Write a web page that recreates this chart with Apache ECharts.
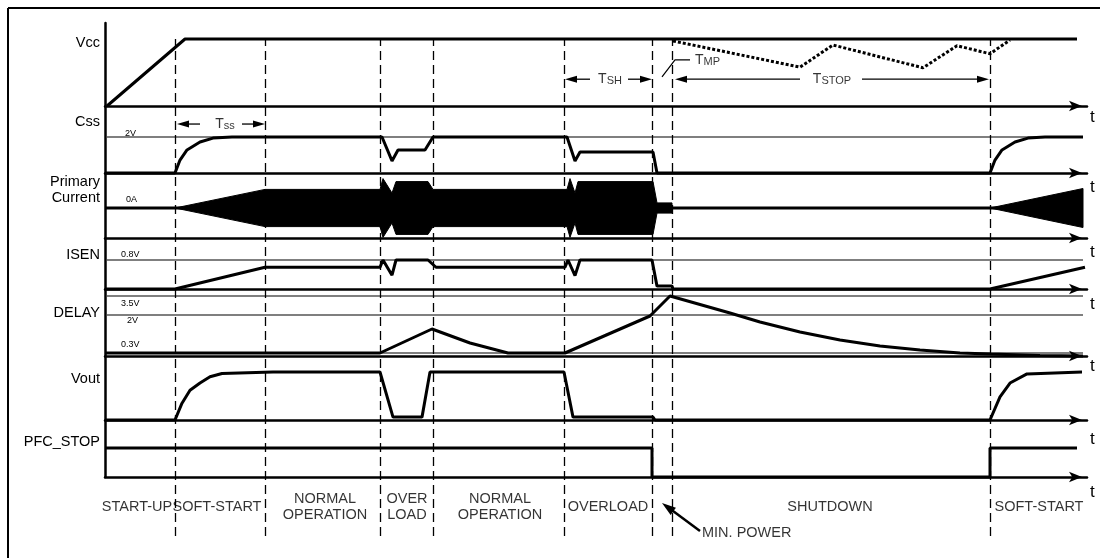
<!DOCTYPE html>
<html>
<head>
<meta charset="utf-8">
<script src="https://cdn.jsdelivr.net/npm/echarts@6/dist/echarts.min.js"></script>
<style>
  html, body { margin: 0; padding: 0; background: #fff; }
  #chart { width: 1100px; height: 558px; }
</style>
</head>
<body>
<div id="chart"></div>
<script>
// time runs from 0 (left axis) to T_MAX (arrow tips), same scale for every lane
const T_MAX = 982;
const eventTimes = [70, 160, 275, 328, 459, 547, 567, 885];

// ---- signal values, [time, level] ----
// Vcc, normalised (1 = supply up)
const vcc = [[2, 0], [80, 1], [972, 1]];
const vccDroop = [[568, 0.97], [695, 0.58], [728, 0.91], [818, 0.57], [852, 0.9], [885, 0.78], [905, 0.985]];
// Css in volts
const css = [[0, 0], [70, 0], [75, 0.72], [82, 1.28], [95, 1.72], [108, 1.94], [127, 2], [277, 2], [287, 0.67],
  [293, 1.28], [320, 1.28], [328, 2], [462, 2], [470, 0.67], [475, 1.17], [548, 1.17], [552, 0], [885, 0],
  [890, 0.72], [897, 1.28], [910, 1.72], [923, 1.94], [940, 2], [978, 2]];
// primary current envelope, half amplitude (the burst is drawn +/-)
const currentBursts = [
  [[70, 0], [160, 0.62], [275, 0.62], [278, 0.98], [287, 0.5], [291, 0.88], [323, 0.88], [328, 0.62], [462, 0.62],
   [465, 0.98], [470, 0.5], [473, 0.88], [548, 0.88], [552, 0.17], [567, 0.17], [567, 0]],
  [[885, 0], [978, 0.65]]
];
const currentZero = [[0, 0], [978, 0]];
// ISEN in volts
const isen = [[0, 0], [70, 0], [160, 0.6], [275, 0.6], [278, 0.8], [287, 0.38], [291, 0.8], [323, 0.8], [331, 0.6],
  [460, 0.6], [463, 0.8], [470, 0.37], [475, 0.8], [547, 0.8], [552, 0.08], [567, 0.08], [568, 0], [885, 0], [980, 0.6]];
// DELAY, schematic level (0.3V = 3, 2V = 41, 3.5V = 60)
const delay = [[0, 3], [275, 3], [327, 27], [365, 13], [403, 3], [460, 3], [545, 40], [565, 60], [625, 43],
  [655, 34], [695, 24], [735, 16], [775, 10], [815, 6], [855, 3], [885, 2], [935, 0.5], [978, 0]];
// Vout normalised
const vout = [[0, 0], [70, 0], [77, 0.35], [85, 0.62], [95, 0.77], [105, 0.9], [117, 0.97], [168, 1], [275, 1],
  [288, 0.06], [317, 0.06], [325, 1], [459, 1], [468, 0.06], [548, 0.06], [550, 0], [885, 0], [895, 0.48],
  [905, 0.77], [922, 0.96], [977, 1]];
// PFC_STOP logic
const pfcStop = [[0, 1], [547, 1], [547, 0], [885, 0], [885, 1], [972, 1]];

// reference levels
const cssLevels = [2];
const isenLevels = [0.8];
const delayLevels = [60, 41, 3];

// timing spans, [from, to] tip to tip
const tssArrows = [[95, 2.72, 72, 2.72], [137, 2.72, 160, 2.72]];
const timeArrows = [[485, 0.4, 460, 0.4], [523, 0.4, 547, 0.4], [695, 0.4, 570, 0.4], [757, 0.4, 884, 0.4]];
const tmpLeader = [[557, 0.433], [570, 0.687], [585, 0.687]];
const minPowerArrow = [[595, 14, 557, 42]];

// texts
const signalNames = ['Vcc', 'Css', 'Primary\nCurrent', 'ISEN', 'DELAY', 'Vout', 'PFC_STOP'];
const levelNames = ['2V', '0A', '0.8V', '3.5V', '2V', '0.3V'];
const phaseNames = ['START-UP', 'SOFT-START', 'NORMAL\nOPERATION', 'OVER\nLOAD', 'NORMAL\nOPERATION', 'OVERLOAD', 'SHUTDOWN', 'SOFT-START'];
const phaseCenters = [32, 112, 220, 302, 395, 503, 725, 934];

// ---- layout ----
const FONT = '"Liberation Sans", Arial, Helvetica, sans-serif';
const LEFT = 105, RIGHT = 13;
const lanes = [
  { top: 39, height: 67, min: 0, max: 1, tPad: 3 },      // Vcc
  { top: 110, height: 63, min: 0, max: 3.5, tPad: 6 },   // Css
  { top: 178, height: 60, min: -1, max: 1, tPad: 6 },    // Primary current
  { top: 260, height: 29, min: 0, max: 0.8, tPad: 7 },   // ISEN
  { top: 296, height: 60, min: 0, max: 60, tPad: 2 },    // DELAY
  { top: 372, height: 48, min: 0, max: 1, tPad: 11 },    // Vout
  { top: 448, height: 29, min: 0, max: 1, tPad: 7 }      // PFC_STOP
];
const extraGrids = [
  { top: 39, height: 497, min: 0, max: 1 },   // 7: dashed phase markers
  { top: 23, height: 454, min: 0, max: 1 },   // 8: left vertical axis
  { top: 480, height: 65, min: 0, max: 65 }   // 9: phase names / notes
];
const allGrids = lanes.concat(extraGrids);

const grid = allGrids.map(g => ({ left: LEFT, right: RIGHT, top: g.top, height: g.height }));
const xAxis = allGrids.map((g, i) => {
  const isLane = i < lanes.length;
  return {
    gridIndex: i, type: 'value', min: 0, max: T_MAX, show: isLane,
    axisLine: { show: true, onZero: false, symbol: ['none', 'arrow'], symbolSize: [8, 13], symbolOffset: [0, -5],
      lineStyle: { color: '#000', width: 2.5 } },
    axisTick: { show: false }, axisLabel: { show: false }, splitLine: { show: false },
    name: isLane ? 't' : '', nameLocation: 'end', nameGap: 3,
    nameTextStyle: { color: '#000', fontSize: 17, fontFamily: FONT, verticalAlign: 'top', padding: [g.tPad || 0, 0, 0, 0] }
  };
});
const yAxis = allGrids.map((g, i) => ({
  gridIndex: i, type: 'value', min: g.min, max: g.max, show: i === 8,
  axisLine: { show: true, onZero: false, lineStyle: { color: '#000', width: 2.5 } },
  axisTick: { show: false }, axisLabel: { show: false }, splitLine: { show: false }
}));

function wave(idx, data, width, lineType) {
  return {
    type: 'line', xAxisIndex: idx, yAxisIndex: idx, data: data, symbol: 'none', clip: false, silent: true,
    lineStyle: { color: '#000', width: width, type: lineType || 'solid' }, z: 3
  };
}
function levelLines(idx, levels) {
  return levels.map(l => wave(idx, [[2, l], [978, l]], 1.2));
}
// straight arrows, shaft + filled head, tip at the second point
function arrows(idx, segs, width, head) {
  return {
    type: 'custom', xAxisIndex: idx, yAxisIndex: idx, silent: true, clip: false, z: 4,
    data: segs, encode: { x: [0, 2], y: [1, 3] },
    renderItem: function (params, api) {
      const s = segs[params.dataIndex];
      const a = api.coord([s[0], s[1]]), b = api.coord([s[2], s[3]]);
      const dx = b[0] - a[0], dy = b[1] - a[1], len = Math.sqrt(dx * dx + dy * dy);
      const ux = dx / len, uy = dy / len, hw = head[0] / 2, hl = head[1];
      const bx = b[0] - ux * hl, by = b[1] - uy * hl;
      return {
        type: 'group', children: [
          { type: 'line', shape: { x1: a[0], y1: a[1], x2: bx + ux * 2, y2: by + uy * 2 }, style: { stroke: '#000', lineWidth: width } },
          { type: 'polygon', shape: { points: [[b[0], b[1]], [bx - uy * hw, by + ux * hw], [bx + uy * hw, by - ux * hw]] }, style: { fill: '#000' } }
        ]
      };
    }
  };
}
function notes(idx, items, rich) {
  return {
    type: 'scatter', xAxisIndex: idx, yAxisIndex: idx, symbolSize: 0, silent: true, z: 5,
    data: items.map(it => ({ name: it.text, value: it.at, label: { position: it.pos || 'inside', distance: 0 } })),
    label: { show: true, formatter: p => p.name, color: '#000', fontSize: 14.5, fontFamily: FONT, lineHeight: 16, rich: rich || {} }
  };
}

const richT = {
  t: { fontSize: 14, fontFamily: FONT, color: '#000', lineHeight: 14, verticalAlign: 'bottom' },
  s: { fontSize: 11, fontFamily: FONT, color: '#000', lineHeight: 11, verticalAlign: 'bottom' }
};

const series = [
  // primary current bursts
  {
    type: 'custom', xAxisIndex: 2, yAxisIndex: 2, silent: true, clip: false, z: 2,
    data: currentBursts.map(b => [b[0][0], 0]),
    encode: { x: 0, y: 1 },
    renderItem: function (params, api) {
      const b = currentBursts[params.dataIndex];
      const top = b.map(p => api.coord([p[0], p[1]]));
      const bottom = b.slice().reverse().map(p => api.coord([p[0], -p[1]]));
      return { type: 'polygon', shape: { points: top.concat(bottom) }, style: { fill: '#000', stroke: '#000', lineWidth: 1 } };
    }
  },
  wave(0, vcc, 3),
  wave(0, vccDroop, 3, [3, 2]),
  wave(1, css, 3),
  wave(2, currentZero, 3),
  wave(3, isen, 3),
  wave(4, delay, 3),
  wave(5, vout, 3),
  wave(6, pfcStop, 3)
].concat(levelLines(1, cssLevels), levelLines(3, isenLevels), levelLines(4, delayLevels));

// dashed phase boundaries
series.push({
  type: 'line', xAxisIndex: 7, yAxisIndex: 7, data: [], silent: true,
  markLine: {
    silent: true, animation: false, symbol: ['none', 'none'], label: { show: false },
    lineStyle: { color: '#000', width: 1.3, type: [9, 5] },
    data: eventTimes.map(t => ({ xAxis: t }))
  }
});

// timing arrows
series.push(arrows(1, tssArrows, 1.3, [7, 12]));
series.push(arrows(0, timeArrows, 1.3, [7, 12]));
series.push(wave(0, tmpLeader, 1.2));
series.push(arrows(9, minPowerArrow, 2.5, [9, 14]));

// annotation texts
series.push(notes(1, [{ text: '{t|T}{s|ss}', at: [120, 2.72] }], richT));
series.push(notes(0, [
  { text: '{t|T}{s|SH}', at: [505, 0.4] },
  { text: '{t|T}{s|STOP}', at: [727, 0.4] },
  { text: '{t|T}{s|MP}', at: [590, 0.687], pos: 'right' }
], richT));
series.push(notes(9, phaseNames.map((n, i) => ({ text: n, at: [phaseCenters[i], 38.5] }))
  .concat([{ text: 'MIN. POWER', at: [597, 12], pos: 'right' }])));

// signal names and level tags on the left
const nameY = [43, 122, 190, 255, 313, 379, 442];
const levelPos = [[125, 134], [126, 200], [121, 255], [121, 304], [127, 321], [121, 345]];
const graphics = [
  { type: 'line', shape: { x1: 8, y1: 8, x2: 1100, y2: 8 }, style: { stroke: '#000', lineWidth: 2 } },
  { type: 'line', shape: { x1: 8, y1: 8, x2: 8, y2: 558 }, style: { stroke: '#000', lineWidth: 2 } }
];
signalNames.forEach((n, i) => graphics.push({
  type: 'text', x: 100, y: nameY[i],
  style: { text: n, fill: '#000', font: '14.5px ' + FONT, align: 'right', verticalAlign: 'middle', lineHeight: 16 }
}));
levelNames.forEach((n, i) => graphics.push({
  type: 'text', x: levelPos[i][0], y: levelPos[i][1],
  style: { text: n, fill: '#000', font: '9px ' + FONT, align: 'left', verticalAlign: 'middle' }
}));

const chart = echarts.init(document.getElementById('chart'));
chart.setOption({
  animation: false,
  backgroundColor: '#fff',
  grid: grid,
  xAxis: xAxis,
  yAxis: yAxis,
  series: series,
  graphic: { elements: graphics }
});
</script>
</body>
</html>
